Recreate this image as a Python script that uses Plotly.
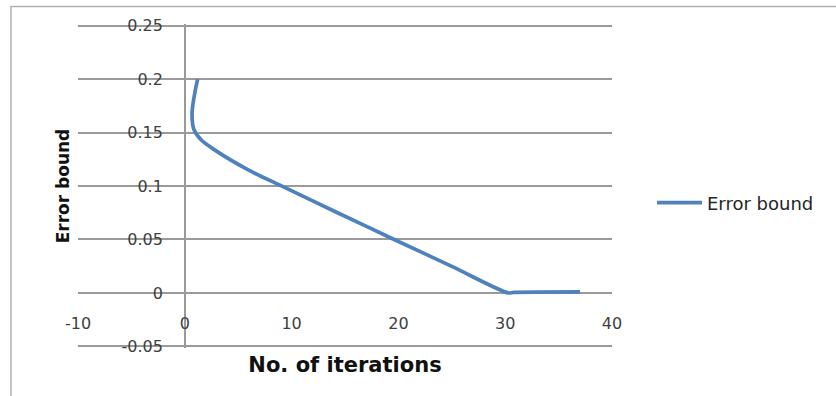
import plotly.graph_objects as go

# Data
iterations = [1.2, 0.9, 0.68, 0.85, 1.5, 2.75, 5.9, 9.0, 14.3, 19.6, 25.0, 30.3, 30.8, 37.0]
error_bound = [0.2, 0.185, 0.168, 0.153, 0.1434, 0.134, 0.1153, 0.1003, 0.075, 0.05, 0.0248, 0.0, 0.0005, 0.001]
series_name = "Error bound"

x_tick_vals = [-10, 0, 10, 20, 30, 40]
x_tick_text = ["-10", "0", "10", "20", "30", "40"]
y_tick_vals = [-0.05, 0, 0.05, 0.1, 0.15, 0.2, 0.25]
y_tick_text = ["-0.05", "0", "0.05", "0.1", "0.15", "0.2", "0.25"]

x_title = "No. of iterations"
y_title = "Error bound"

# layout geometry (pixels); ranges padded slightly so the edge gridlines are drawn
W, H = 836, 396
L, R, T, B = 78, 224, 24, 48
pw, ph = W - L - R, H - T - B
x_range = [-10, 40]
y_range = [-0.0515, 0.2515]
x0_frac = (0 - x_range[0]) / (x_range[1] - x_range[0])
y0_frac = (0 - y_range[0]) / (y_range[1] - y_range[0])

fig = go.Figure()
fig.add_trace(go.Scatter(
    x=iterations, y=error_bound, mode="lines", name=series_name,
    line=dict(color="#4F81BD", width=3.7, shape="spline", smoothing=0.9),
))

font_main = "DejaVu Sans"
fig.update_layout(
    width=W, height=H,
    margin=dict(l=L, r=R, t=T, b=B, autoexpand=False),
    paper_bgcolor="white", plot_bgcolor="white",
    showlegend=True,
    legend=dict(x=(652 - L) / pw, y=(H - B - 203) / ph, xanchor="left", yanchor="middle",
                font=dict(family=font_main, size=18, color="#262626"),
                itemwidth=45, bgcolor="rgba(0,0,0,0)"),
    xaxis=dict(
        range=x_range, tickvals=x_tick_vals, ticktext=x_tick_text,
        anchor="free", position=y0_frac, showgrid=False, zeroline=False,
        showline=False, ticks="", ticklabelstandoff=19, automargin=False,
        tickfont=dict(family=font_main, size=16, color="#404040"),
        title=dict(text=x_title, standoff=25,
                   font=dict(family=font_main, size=21, color="#111111", weight="bold")),
    ),
    yaxis=dict(
        range=y_range, tickvals=y_tick_vals, ticktext=y_tick_text,
        anchor="free", position=x0_frac, showgrid=True, gridcolor="#9a9a9a", gridwidth=1.5,
        zeroline=False, showline=True, linecolor="#9a9a9a", linewidth=1.5,
        ticks="", ticklabelstandoff=18, automargin=False,
        tickfont=dict(family=font_main, size=16, color="#404040"),
        title=dict(text=y_title, standoff=46,
                   font=dict(family=font_main, size=17, color="#111111", weight="bold")),
    ),
    shapes=[dict(type="rect", xref="paper", yref="paper",
                 x0=(11 - L) / pw, x1=(W + 10 - L) / pw,
                 y0=-(B + 10) / ph, y1=(ph + T - 6.5) / ph,
                 line=dict(color="#b0b0b0", width=1.5), layer="below")],
)

fig.write_html("out.html", config={"displayModeBar": False},
               post_script="document.body.style.margin='0';")
